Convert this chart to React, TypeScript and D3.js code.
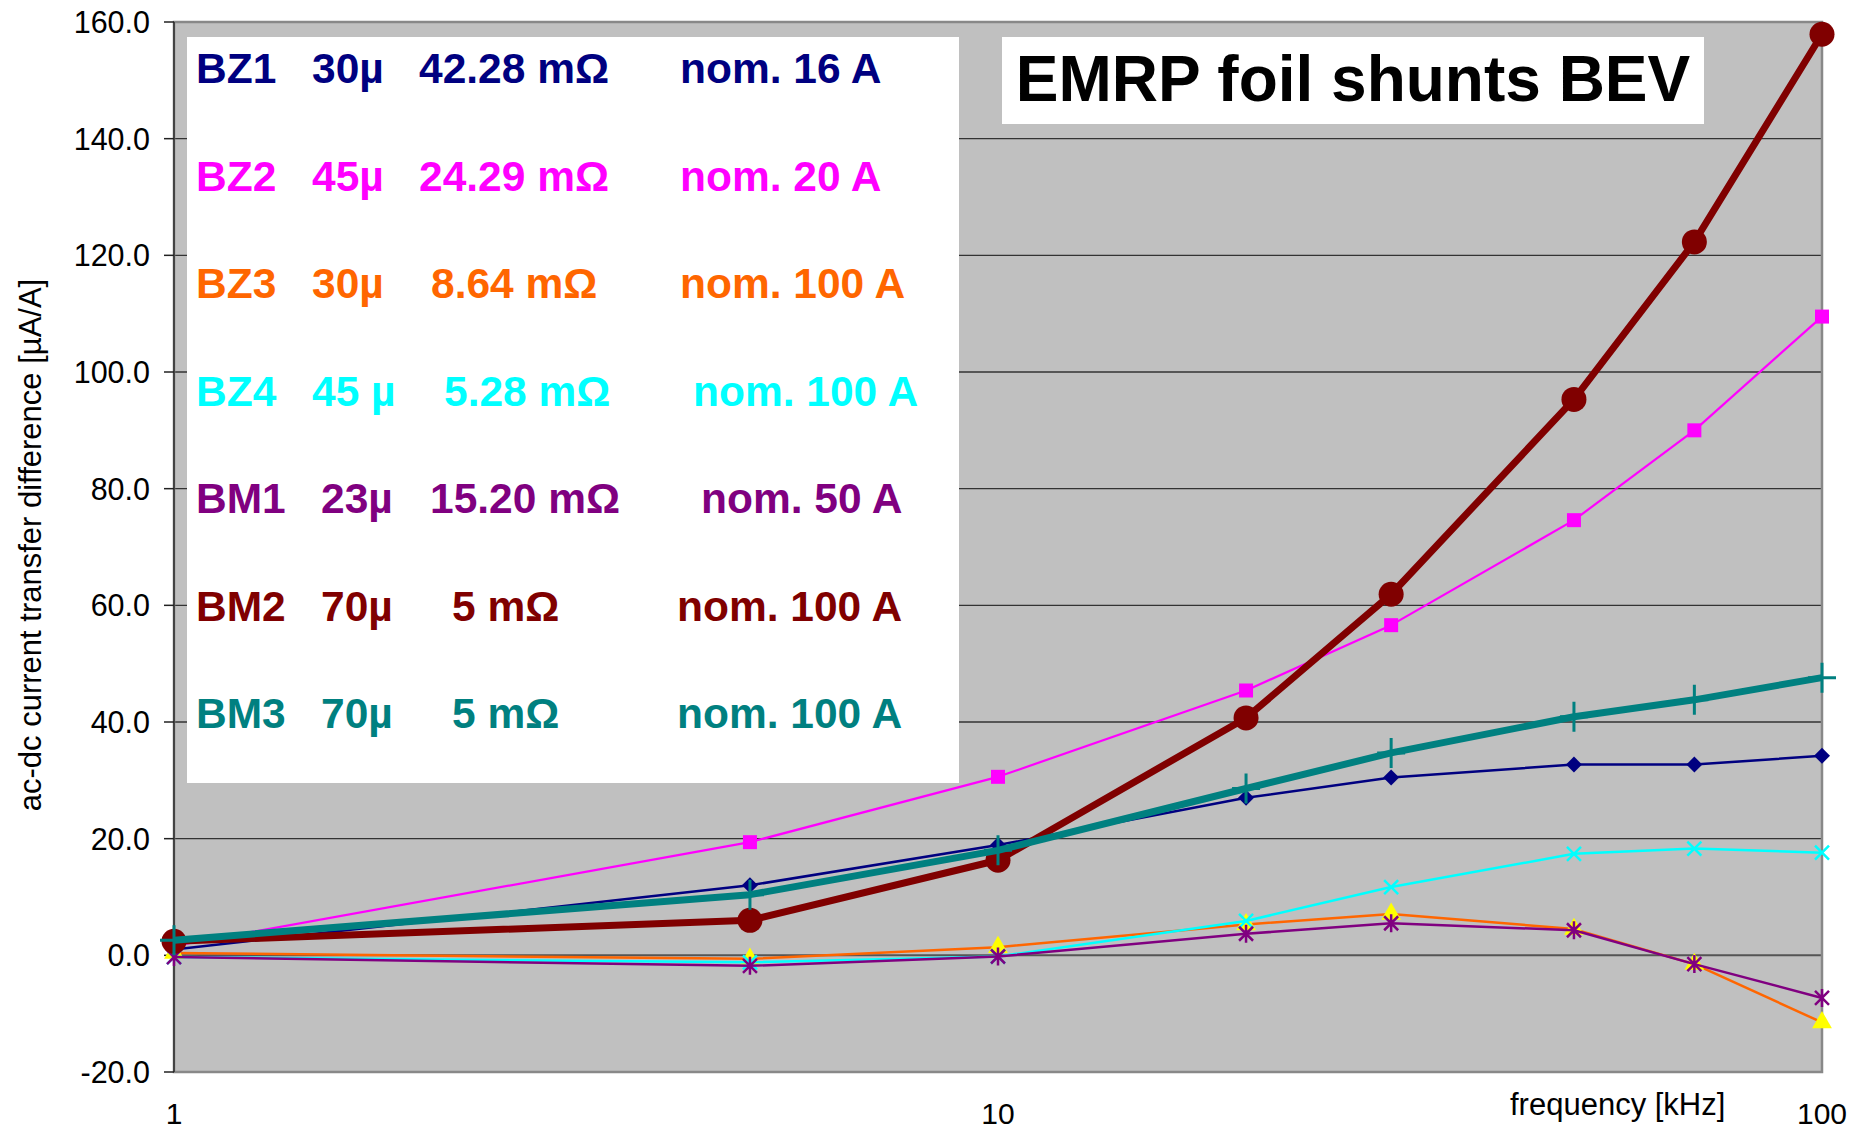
import React from "react";
import * as d3 from "d3";

// frequencies in kHz
const freqs = [1, 5, 10, 20, 30, 50, 70, 100];

// ac-dc current transfer difference, µA/A
const bz1 = [1.0, 12.0, 18.9, 27.0, 30.5, 32.7, 32.7, 34.2];
const bz2 = [1.6, 19.4, 30.6, 45.4, 56.6, 74.6, 90.0, 109.5];
const bz3 = [0.4, -0.6, 1.4, 5.3, 7.1, 4.5, -1.5, -11.5];
const bz4 = [-0.3, -1.2, -0.2, 5.9, 11.7, 17.4, 18.3, 17.6];
const bm1 = [-0.3, -1.8, -0.2, 3.7, 5.5, 4.3, -1.5, -7.3];
const bm2 = [2.4, 6.0, 16.3, 40.7, 61.9, 95.3, 122.3, 157.9];
const bm3 = [2.6, 10.4, 18.0, 28.6, 34.7, 40.9, 43.8, 47.6];

const yTicks = [-20, 0, 20, 40, 60, 80, 100, 120, 140, 160];
const xTicks = [1, 10, 100];

const legendRows = [
  ["BZ1", "30µ", "42.28 mΩ", "nom. 16 A"],
  ["BZ2", "45µ", "24.29 mΩ", "nom. 20 A"],
  ["BZ3", "30µ", "8.64 mΩ", "nom. 100 A"],
  ["BZ4", "45 µ", "5.28 mΩ", "nom. 100 A"],
  ["BM1", "23µ", "15.20 mΩ", "nom. 50 A"],
  ["BM2", "70µ", "5 mΩ", "nom. 100 A"],
  ["BM3", "70µ", "5 mΩ", "nom. 100 A"],
];

const title = "EMRP foil shunts BEV";
const xLabel = "frequency [kHz]";
const yLabel = "ac-dc current transfer difference [µA/A]";

// layout
const W = 1866;
const H = 1131;
const plot = { left: 174, right: 1822, top: 22, bottom: 1072 };
const legendCols = [
  [196, 312, 419, 680],
  [196, 312, 419, 680],
  [196, 312, 431, 680],
  [196, 312, 444, 693],
  [196, 321, 430, 701],
  [196, 321, 452, 677],
  [196, 321, 452, 677],
];
const FONT = "'Liberation Sans', Arial, Helvetica, sans-serif";

const series = [
  { values: bz1, color: "#000080", width: 2.5, marker: "diamond", fill: "#000080" },
  { values: bz2, color: "#FF00FF", width: 2.2, marker: "square", fill: "#FF00FF" },
  { values: bz3, color: "#FF6600", width: 2.5, marker: "triangle", fill: "#FFFF00" },
  { values: bz4, color: "#00FFFF", width: 2.5, marker: "cross", fill: "#00FFFF" },
  { values: bm1, color: "#800080", width: 2.5, marker: "asterisk", fill: "#800080" },
  { values: bm2, color: "#800000", width: 7, marker: "circle", fill: "#800000" },
  { values: bm3, color: "#008080", width: 7, marker: "plus", fill: "#008080" },
];

const markerPath = (type: string) => {
  switch (type) {
    case "diamond":
      return "M0,-8L8,0L0,8L-8,0Z";
    case "square":
      return "M-7,-7H7V7H-7Z";
    case "triangle":
      return d3.symbol(d3.symbolTriangle, 170)() as string;
    case "circle":
      return d3.symbol(d3.symbolCircle, Math.PI * 12.5 * 12.5)() as string;
    case "cross":
      return "M-7,-7L7,7M-7,7L7,-7";
    case "asterisk":
      return "M-7,-7L7,7M-7,7L7,-7M0,-9V9";
    case "plus":
      return "M0,-15V15M-14,0H14";
    default:
      return "";
  }
};

const App = () => {
  const x = d3.scaleLog().domain([1, 100]).range([plot.left, plot.right]);
  const y = d3.scaleLinear().domain([-20, 160]).range([plot.bottom, plot.top]);

  const line = d3
    .line<number>()
    .x((_, i) => x(freqs[i]))
    .y((d) => y(d));

  return (
    <svg
      width={W}
      height={H}
      style={{ position: "absolute", left: 0, top: 0, background: "#fff" }}
      fontFamily={FONT}
    >
      {/* plot background */}
      <rect
        x={plot.left}
        y={plot.top}
        width={plot.right - plot.left}
        height={plot.bottom - plot.top}
        fill="#C0C0C0"
      />
      {/* gridlines */}
      {yTicks
        .filter((t) => t > -20 && t < 160)
        .map((t) => (
          <line
            key={t}
            x1={plot.left}
            x2={plot.right}
            y1={y(t)}
            y2={y(t)}
            stroke={t === 0 ? "#555" : "#333"}
            strokeWidth={t === 0 ? 2 : 1.3}
          />
        ))}
      {/* border */}
      <rect
        x={plot.left}
        y={plot.top}
        width={plot.right - plot.left}
        height={plot.bottom - plot.top}
        fill="none"
        stroke="#888"
        strokeWidth={2.5}
      />
      <line x1={plot.left} x2={plot.left} y1={plot.top} y2={plot.bottom} stroke="#444" strokeWidth={2} />

      {/* y ticks and labels */}
      {yTicks.map((t) => (
        <g key={t}>
          <line x1={plot.left - 10} x2={plot.left} y1={y(t)} y2={y(t)} stroke="#222" strokeWidth={1.5} />
          <text x={150} y={y(t) + 11} textAnchor="end" fontSize={30.5} fill="#000">
            {t.toFixed(1)}
          </text>
        </g>
      ))}

      {/* x tick labels */}
      {xTicks.map((t) => (
        <text key={t} x={x(t)} y={1124} textAnchor="middle" fontSize={30} fill="#000">
          {t}
        </text>
      ))}
      <text x={1510} y={1115} fontSize={31} fill="#000">
        {xLabel}
      </text>
      <text
        transform={`translate(41,545) rotate(-90)`}
        textAnchor="middle"
        fontSize={31}
        fill="#000"
      >
        {yLabel}
      </text>

      {/* legend box */}
      <rect x={187} y={37} width={772} height={746} fill="#fff" />
      {legendRows.map((row, i) => (
        <text
          key={row[0]}
          y={83 + i * 107.5}
          fontSize={42.5}
          fontWeight="bold"
          fill={series[i].color}
        >
          {row.map((s, j) => (
            <tspan key={j} x={legendCols[i][j]}>
              {s}
            </tspan>
          ))}
        </text>
      ))}

      {/* title box */}
      <rect x={1002} y={37} width={702} height={87} fill="#fff" />
      <text x={1353} y={101} textAnchor="middle" fontSize={64} fontWeight="bold" fill="#000">
        {title}
      </text>

      {/* series */}
      {series.map((s, si) => (
        <g key={si}>
          <path
            d={line(s.values) as string}
            fill="none"
            stroke={s.color}
            strokeWidth={s.width}
            strokeLinejoin="round"
          />
          {s.values.map((v, i) => {
            const open = s.marker === "cross" || s.marker === "asterisk" || s.marker === "plus";
            return (
              <path
                key={i}
                transform={`translate(${x(freqs[i])},${y(v)})`}
                d={markerPath(s.marker)}
                fill={open ? "none" : s.fill}
                stroke={open ? s.fill : "none"}
                strokeWidth={open ? (s.marker === "plus" ? 3 : 2.5) : 0}
              />
            );
          })}
        </g>
      ))}
    </svg>
  );
};

export default App;
